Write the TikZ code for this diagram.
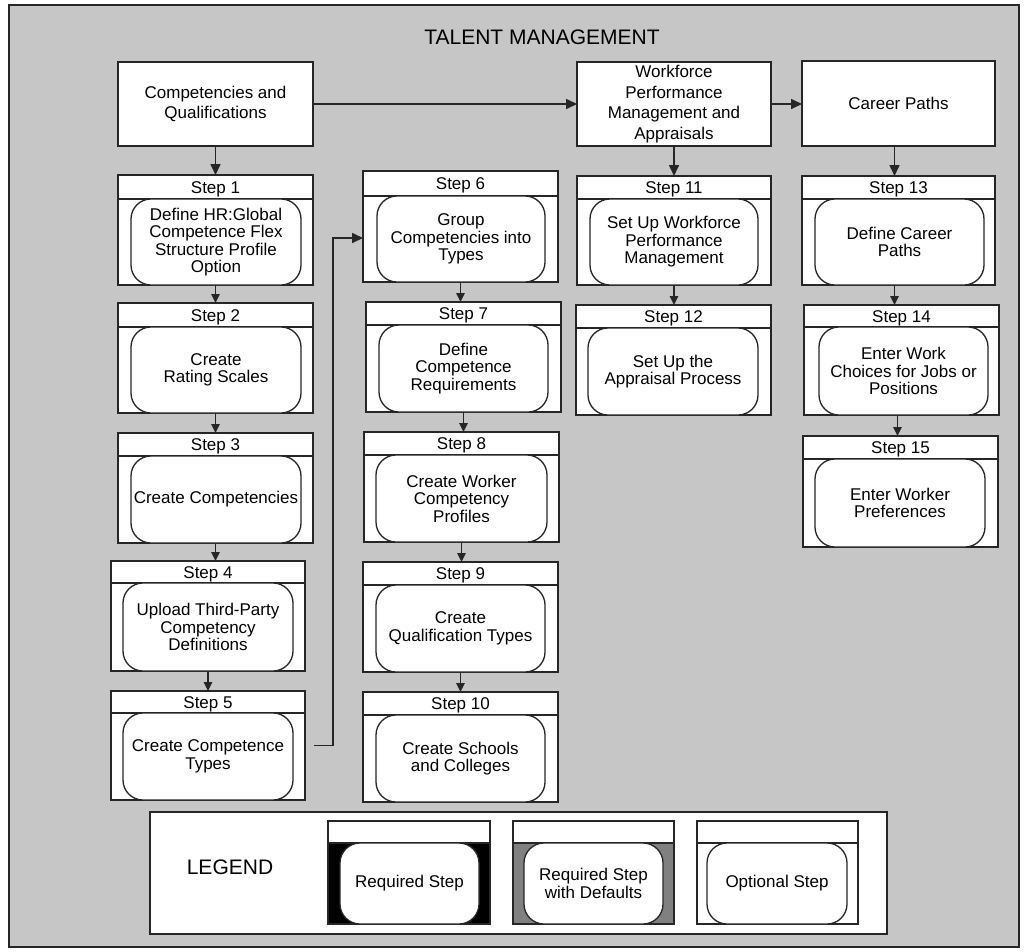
\documentclass[tikz,border=0pt]{standalone}
\usepackage{fontspec}
\setmainfont{Liberation Sans}
\usetikzlibrary{arrows.meta,calc}
\definecolor{lc}{HTML}{262626}
\definecolor{bgg}{HTML}{C6C6C6}
\definecolor{midg}{HTML}{808080}
\newcommand\stepfnt{\fontsize{17}{17.5}\selectfont}
\newcommand\topfnt{\fontsize{17}{20.7}\selectfont}
\newcommand\bigfnt{\fontsize{21}{24}\selectfont}
\tikzset{
  frame/.style={draw=lc, fill=bgg, line width=1.6pt, inner sep=0pt, outer sep=0pt, anchor=north west},
  stepouter/.style={draw=lc, fill=white, line width=1.9pt, inner sep=0pt, outer sep=0pt, anchor=north west},
  stepinner/.style={draw=lc, fill=white, line width=1.3pt, rounded corners=20pt, inner sep=0pt, outer sep=0pt, anchor=north west, align=center, font=\stepfnt},
  steplbl/.style={font=\stepfnt, inner sep=0pt, text height=12.2pt, text depth=0pt},
  hdrline/.style={draw=lc, line width=1.9pt},
  topbox/.style={draw=lc, fill=white, line width=1.9pt, inner sep=0pt, outer sep=0pt, anchor=north west, align=center, font=\topfnt},
  bigtext/.style={font=\bigfnt, inner sep=0pt},
  conn/.style={draw=lc, line width=1.6pt, -{Triangle[length=9pt,width=8.5pt]}},
  bigconn/.style={conn, -{Triangle[length=11pt,width=10pt]}},
}
% #1 number, #2 left, #3 right, #4 top, #5 header, #6 bottom, #7 inner left, #8 inner right, #9 text
\newcommand\stepbox[9]{%
  \node[stepouter, minimum width={#3pt-#2pt}, minimum height={#6pt-#4pt}] (s#1) at (#2,#4) {};
  \draw[hdrline] (#2,#5) -- (#3,#5);
  \node[steplbl] (s#1l) at ({(#2+#3)/2},{(#4+#5)/2}) {Step #1};
  \node[stepinner, minimum width={#8pt-#7pt}, minimum height={#6pt-#5pt}] (s#1t) at (#7,#5) {#9};
}
% #1 name, #2 left, #3 right, #4 inner left, #5 inner right, #6 fill, #7 text
\newcommand\legitem[7]{%
  \node[stepouter, fill=#6, minimum width={#3pt-#2pt}, minimum height=103pt] (#1) at (#2,821) {};
  \node[stepouter, minimum width={#3pt-#2pt}, minimum height=22pt] (#1h) at (#2,821) {};
  \node[stepinner, minimum width={#5pt-#4pt}, minimum height=81pt] (#1t) at (#4,843) {#7};
}
\begin{document}
\begin{tikzpicture}[x=1pt,y=-1pt]
\useasboundingbox (0,0) rectangle (1025,951);
\node[frame, minimum width=1010pt, minimum height=942pt] (bg) at (9,5) {};
\node[bigtext] (title) at (542,37) {TALENT MANAGEMENT};

\node[topbox, minimum width=195pt, minimum height=84pt] (cq) at (118,62) {Competencies and\\Qualifications};
\node[topbox, minimum width=194pt, minimum height=84pt] (wf) at (577,62) {Workforce\\Performance\\Management and\\Appraisals};
\node[topbox, minimum width=193pt, minimum height=85pt] (cp) at (802,61) {Career Paths};

\stepbox{1}{118}{313}{175}{199}{285}{131}{301}{Define HR:Global\\Competence Flex\\Structure Profile\\Option}
\stepbox{2}{118}{313}{303}{327}{413}{131}{301}{Create\\Rating Scales}
\stepbox{3}{118}{313}{433}{456}{543}{131}{301}{Create Competencies}
\stepbox{4}{111}{305}{561}{583}{671}{123}{293}{Upload Third-Party\\Competency\\Definitions}
\stepbox{5}{111}{305}{691}{713}{800}{123}{293}{Create Competence\\Types}
\stepbox{6}{363}{558}{171}{196}{282}{377}{545}{Group\\Competencies into\\Types}
\stepbox{7}{366}{561}{302}{325}{412}{379}{548}{Define\\Competence\\Requirements}
\stepbox{8}{364}{559}{432}{455}{542}{376}{547}{Create Worker\\Competency\\Profiles}
\stepbox{9}{363}{558}{562}{585}{672}{376}{545}{Create\\Qualification Types}
\stepbox{10}{363}{558}{692}{715}{802}{376}{545}{Create Schools\\and Colleges}
\stepbox{11}{577}{771}{176}{199}{285}{590}{758}{Set Up Workforce\\Performance\\Management}
\stepbox{12}{576}{771}{305}{328}{415}{588}{758}{Set Up the\\Appraisal Process}
\stepbox{13}{802}{995}{176}{199}{285}{815}{984}{Define Career\\Paths}
\stepbox{14}{804}{999}{305}{327}{415}{819}{988}{Enter Work\\Choices for Jobs or\\Positions}
\stepbox{15}{803}{998}{436}{459}{547}{815}{985}{Enter Worker\\Preferences}

% connectors
\draw[bigconn] (cq.east) -- (cq.east -| wf.west);
\draw[bigconn] (wf.east) -- (wf.east -| cp.west);
\draw[bigconn] (cq.south) -- (cq.south |- s1.north);
\draw[bigconn] (wf.south) -- (wf.south |- s11.north);
\draw[bigconn] ([xshift=-4pt]cp.south) -- ([xshift=-4pt]cp.south |- s13.north);
\foreach \a/\b in {1/2,2/3,3/4,4/5,6/7,7/8,8/9,9/10,11/12}{
  \draw[conn] (s\a.south) -- (s\a.south |- s\b.north);
}
\draw[conn] ([xshift=-4pt]s13.south) -- ([xshift=-4pt]s13.south |- s14.north);
\draw[conn] ([xshift=-4pt]s14.south) -- ([xshift=-4pt]s14.south |- s15.north);
\coordinate (k) at (333,238);
\draw[bigconn] ([xshift=9pt]s5.east) -| (k) -- (k -| s6.west);

% legend
\node[stepouter, minimum width=737pt, minimum height=122pt, line width=1.5pt] (leg) at (150,812) {};
\node[bigtext] (legt) at (230,867) {LEGEND};
\legitem{lr}{328}{490}{340}{479}{black}{Required Step}
\legitem{ld}{513}{674}{524}{663}{midg}{Required Step\\with Defaults}
\legitem{lo}{697}{858}{707}{847}{white}{Optional Step}
\end{tikzpicture}
\end{document}
